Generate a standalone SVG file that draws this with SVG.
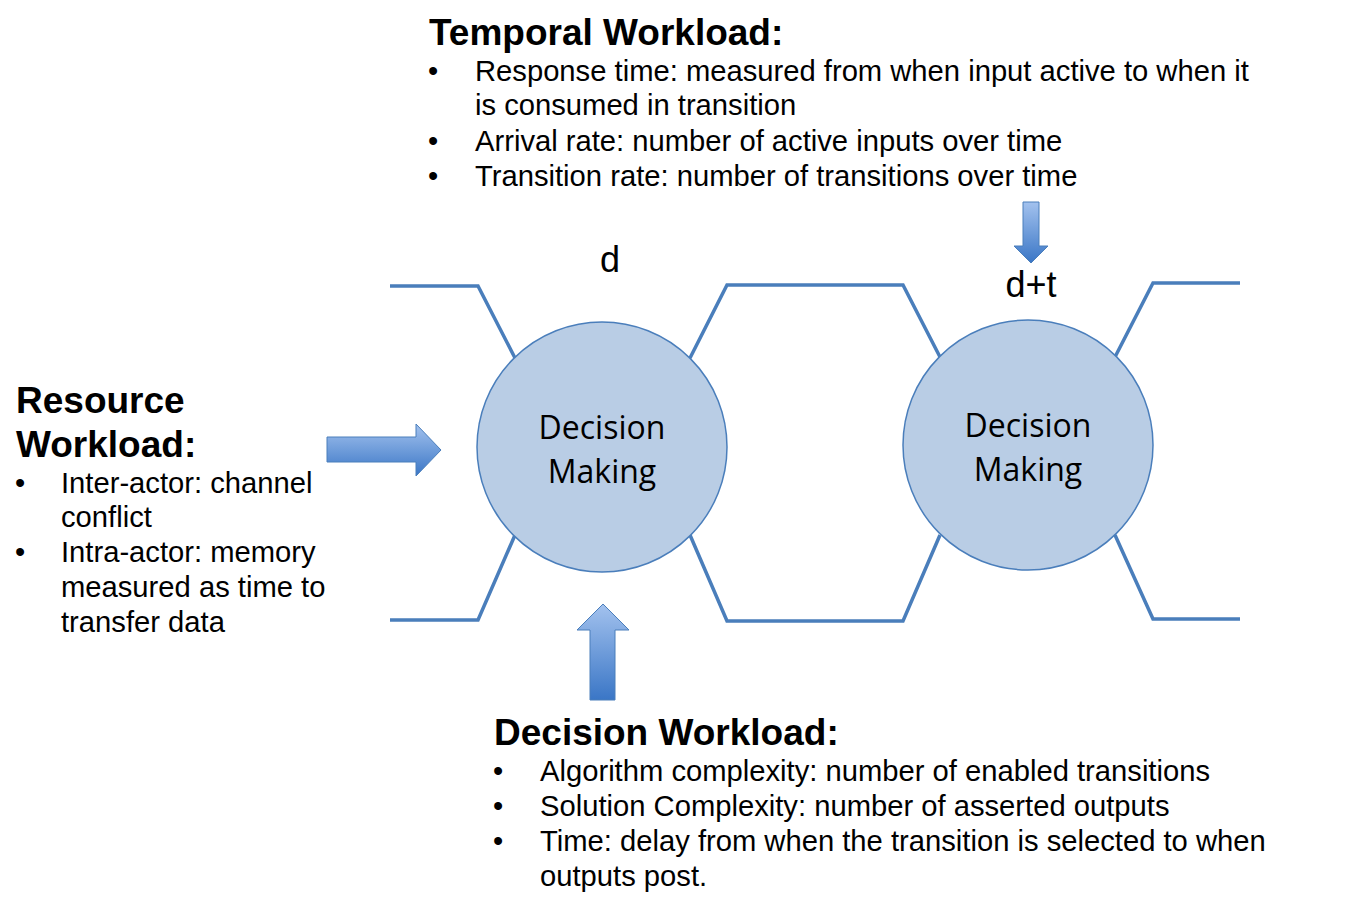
<svg xmlns="http://www.w3.org/2000/svg" width="1353" height="902" viewBox="0 0 1353 902">
<style>
.wire{fill:none;stroke:#4A7EBB;stroke-width:3.5;stroke-linejoin:miter}
.node{fill:#B9CDE5;stroke:#4A7EBB;stroke-width:1.5}
.ntext{font-family:"Open Sans","Noto Sans",sans-serif;font-size:32px;fill:#000;text-anchor:middle}
.arrow{fill:url(#grad);stroke:#4A7EBB;stroke-width:1}
.h{font-family:"Liberation Sans",Arial,sans-serif;font-weight:bold;font-size:37px;fill:#000}
.b{font-family:"Liberation Sans",Arial,sans-serif;font-size:29.2px;fill:#000}
.lbl{font-family:"Liberation Sans",Arial,sans-serif;font-size:36px;fill:#000;text-anchor:middle}
</style>
<defs>
<linearGradient id="grad" x1="0" y1="0" x2="0" y2="1">
<stop offset="0" stop-color="#A3C2EE"/>
<stop offset="1" stop-color="#3A76C6"/>
</linearGradient>
</defs>
<rect width="1353" height="902" fill="#fff"/>
<g id="connectors">
<path class="wire" d="M390,286 H478 L515,358"/>
<path class="wire" d="M390,620 H478 L515,535"/>
<path class="wire" d="M690,358 L727,285 H903 L940,357"/>
<path class="wire" d="M690,535 L727,621 H903 L940,535"/>
<path class="wire" d="M1115,357 L1153,283 H1240"/>
<path class="wire" d="M1115,535 L1153,619 H1240"/>
</g>
<g id="node1">
<circle class="node" cx="602" cy="447" r="125"/>
<text class="ntext" x="602" y="439">Decision</text>
<text class="ntext" x="602" y="483">Making</text>
</g>
<g id="node2">
<circle class="node" cx="1028" cy="445" r="125"/>
<text class="ntext" x="1028" y="437">Decision</text>
<text class="ntext" x="1028" y="481">Making</text>
</g>
<g id="arrow-resource">
<path class="arrow" d="M327,437 H416 V424 L441,450 L416,476 V462 H327 Z"/>
</g>
<g id="arrow-decision">
<path class="arrow" d="M590,700 V630 H577 L603,604 L629,630 H615 V700 Z"/>
</g>
<g id="arrow-temporal">
<path class="arrow" d="M1023,202 H1039 V246 H1048 L1031,263 L1014,246 H1023 Z"/>
</g>
<g id="label-d">
<text class="lbl" x="610" y="272">d</text>
</g>
<g id="label-dt">
<text class="lbl" x="1031" y="297">d+t</text>
</g>
<g id="temporal">
<text class="h" x="429" y="45">Temporal Workload:</text>
<text class="b" x="428" y="81">•</text>
<text class="b" x="475" y="81">Response time: measured from when input active to when it</text>
<text class="b" x="475" y="115">is consumed in transition</text>
<text class="b" x="428" y="151">•</text>
<text class="b" x="475" y="151">Arrival rate: number of active inputs over time</text>
<text class="b" x="428" y="186">•</text>
<text class="b" x="475" y="186">Transition rate: number of transitions over time</text>
</g>
<g id="resource">
<text class="h" x="16" y="413">Resource</text>
<text class="h" x="16" y="457">Workload:</text>
<text class="b" x="15" y="493">•</text>
<text class="b" x="61" y="493">Inter-actor: channel</text>
<text class="b" x="61" y="527">conflict</text>
<text class="b" x="15" y="562">•</text>
<text class="b" x="61" y="562">Intra-actor: memory</text>
<text class="b" x="61" y="597">measured as time to</text>
<text class="b" x="61" y="632">transfer data</text>
</g>
<g id="decision">
<text class="h" x="494" y="745">Decision Workload:</text>
<text class="b" x="493" y="781">•</text>
<text class="b" x="540" y="781">Algorithm complexity: number of enabled transitions</text>
<text class="b" x="493" y="816">•</text>
<text class="b" x="540" y="816">Solution Complexity: number of asserted outputs</text>
<text class="b" x="493" y="851">•</text>
<text class="b" x="540" y="851">Time: delay from when the transition is selected to when</text>
<text class="b" x="540" y="886">outputs post.</text>
</g>
</svg>
